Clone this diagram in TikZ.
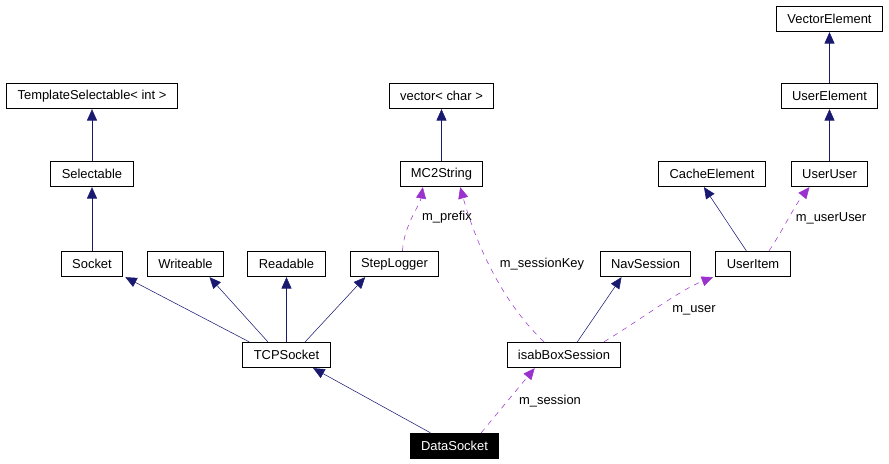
\documentclass[tikz,border=0pt]{standalone}
\usepackage{fontspec}
\setmainfont{Liberation Sans}
\usetikzlibrary{arrows.meta}

\definecolor{inhcol}{HTML}{191970}
\definecolor{usecol}{HTML}{9A32CD}

\begin{document}
\begin{tikzpicture}[x=0.75pt, y=-0.75pt,
    every node/.style={font=\fontsize{9.7pt}{11pt}\selectfont},
    cls/.style={draw, line width=0.75pt, minimum height=19pt, inner xsep=8.2pt, inner ysep=0pt},
    inherit/.style={draw=inhcol, -{Triangle[length=8.5pt,width=7.5pt]}, inhcol},
    member/.style={draw=usecol, dashed, dash pattern=on 4pt off 4pt, -{Triangle[length=8.5pt,width=7.5pt]}, usecol},
    lbl/.style={inner sep=1pt, text=black}]
        \useasboundingbox (0,0) rectangle (889,464);

        % Klassen
        \node[cls] (tsel)   at (92,96)    {TemplateSelectable< int >};
        \node[cls] (sel)    at (92,174)   {Selectable};
        \node[cls] (sock)   at (92,264)   {Socket};
        \node[cls] (write)  at (185.5,264){Writeable};
        \node[cls] (read)   at (286.5,264){Readable};
        \node[cls] (steplog) at (394.5,264){StepLogger};
        \node[cls] (tcp)    at (286.5,355){TCPSocket};
        \node[cls] (vecc)   at (441.5,96) {vector< char >};
        \node[cls] (mcstr)  at (441.5,174){MC2String};
        \node[cls] (isab)   at (564,355)  {isabBoxSession};
        \node[cls] (nav)    at (645.5,264){NavSession};
        \node[cls] (uitem)  at (753,264)  {UserItem};
        \node[cls] (cache)  at (712,174)  {CacheElement};
        \node[cls] (uuser)  at (829.5,174){UserUser};
        \node[cls] (uelem)  at (829.5,96) {UserElement};
        \node[cls] (velem)  at (829.5,19) {VectorElement};
        \node[cls, fill=black, text=white] (data) at (454.5,446) {DataSocket};

        % Vererbung
        \draw[inherit] (sel) -- (tsel);
        \draw[inherit] (sock) -- (sel);
        \draw[inherit] ([xshift=-28]tcp.north) -- ([xshift=25]sock.south);
        \draw[inherit] ([xshift=-14]tcp.north) -- ([xshift=18]write.south);
        \draw[inherit] (tcp) -- (read);
        \draw[inherit] ([xshift=14]tcp.north) -- ([xshift=-22]steplog.south);
        \draw[inherit] (mcstr) -- (vecc);
        \draw[inherit] ([xshift=-18]data.north) -- ([xshift=20]tcp.south);
        \draw[inherit] ([xshift=10]isab.north) -- ([xshift=-18]nav.south);
        \draw[inherit] ([xshift=-5]uitem.north) -- ([xshift=-6]cache.south);
        \draw[inherit] (uuser) -- (uelem);
        \draw[inherit] (uelem) -- (velem);

        % Member
        \draw[member] ([xshift=6]steplog.north) .. controls (404,225) and (420,205) .. ([xshift=-14]mcstr.south);
        \node[lbl] (lprefix) at (447,217) {m\_prefix};
        \draw[member] ([xshift=-15]isab.north) .. controls (500,300) and (475,240) .. ([xshift=14]mcstr.south);
        \node[lbl] (lsesskey) at (542,264) {m\_sessionKey};
        \draw[member] ([xshift=30]isab.north) .. controls (640,320) and (680,290) .. ([xshift=-30]uitem.south);
        \node[lbl] (luser) at (694,310) {m\_user};
        \draw[member] ([xshift=12]uitem.north) .. controls (780,235) and (795,205) .. ([xshift=-15]uuser.south);
        \node[lbl] (luu) at (831,218) {m\_userUser};
        \draw[member] ([xshift=20]data.north) -- ([xshift=-22]isab.south);
        \node[lbl] (lsess) at (550,401) {m\_session};
\end{tikzpicture}
\end{document}
